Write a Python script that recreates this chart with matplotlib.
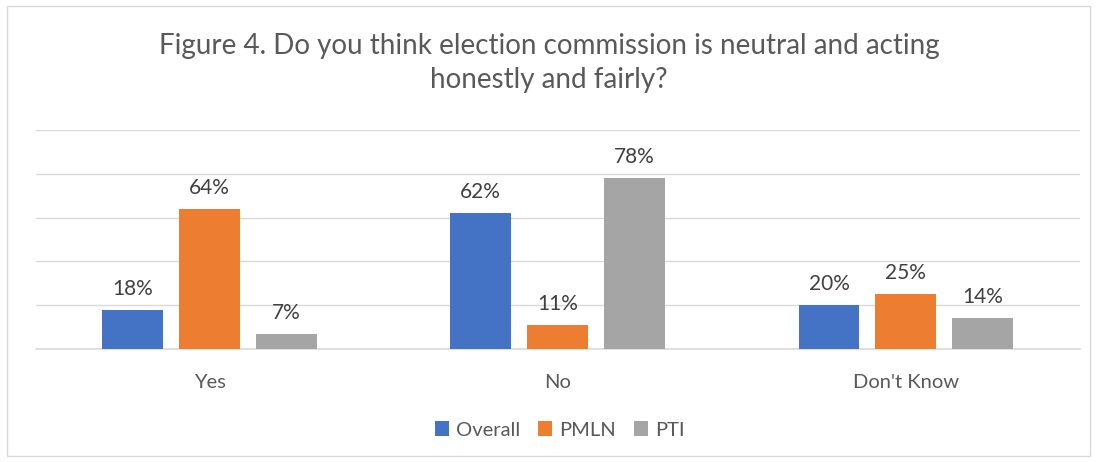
import matplotlib.pyplot as plt
import numpy as np
from matplotlib.patches import Rectangle

plt.rcParams['font.family'] = ['Lato', 'DejaVu Sans']

categories = ["Yes", "No", "Don't Know"]
series_names = ["Overall", "PMLN", "PTI"]
overall = [18, 62, 20]
pmln = [64, 11, 25]
pti = [7, 78, 14]
colors = ['#4472C4', '#ED7D31', '#A5A5A5']

fig = plt.figure(figsize=(10.98, 4.62), dpi=100)
ax = fig.add_axes([35.5/1098, 1-349/462, (1080-35.5)/1098, (349-130)/462])

# light border round the whole chart
fig.patches.append(Rectangle((7/1098, 1-456/462), 1083/1098, 450/462,
                             transform=fig.transFigure, fill=False,
                             edgecolor='#D9D9D9', linewidth=1))

x = np.arange(len(categories))
w = 0.175
step = 0.221
for i, (vals, name) in enumerate(zip([overall, pmln, pti], series_names)):
    pos = x + (i - 1) * step
    bars = ax.bar(pos, vals, w, color=colors[i], label=name, zorder=3)
    for b, v in zip(bars, vals):
        ax.text(b.get_x() + b.get_width()/2, v + 5, "%d%%" % v,
                ha='center', va='bottom', fontsize=15, color='#404040')

ax.set_xlim(-0.5, 2.5)
ax.set_ylim(0, 100)
ax.set_yticks(np.arange(0, 101, 20))
ax.set_yticklabels([])
ax.tick_params(axis='y', length=0)
ax.grid(axis='y', color='#D9D9D9', linewidth=1, zorder=0)
for s in ['top', 'right', 'left']:
    ax.spines[s].set_visible(False)
ax.spines['bottom'].set_color('#D9D9D9')
ax.spines['bottom'].set_linewidth(1.2)
ax.set_xticks(x)
ax.set_xticklabels(categories, fontsize=14.5, color='#595959')
ax.tick_params(axis='x', length=0, pad=18)

fig.text(0.5, 1-63/462, "Figure 4. Do you think election commission is neutral and acting\nhonestly and fairly?",
         ha='center', va='center', fontsize=20, color='#595959', linespacing=1.35)

fig.legend(loc='center', bbox_to_anchor=(560/1098, 1-430/462), ncol=3, frameon=False,
           fontsize=14.5, handlelength=0.7, handleheight=0.7, handletextpad=0.35,
           columnspacing=0.9, labelcolor='#595959')

fig.savefig('out.png', dpi=100)
